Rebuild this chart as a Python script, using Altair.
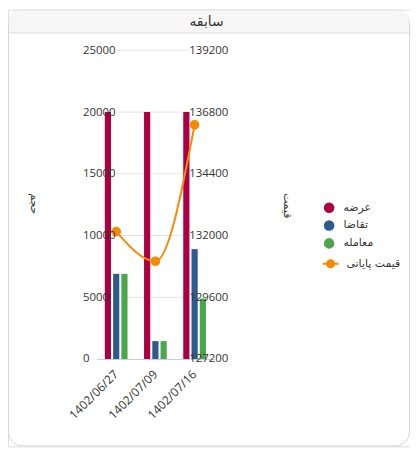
import altair as alt
import pandas as pd

# ---- data ----
dates = ["1402/06/27", "1402/07/09", "1402/07/16"]
series_names = ["عرضه", "تقاضا", "معامله"]
supply = [20000, 20000, 20000]
demand = [6900, 1450, 8900]
trade = [6900, 1450, 4900]
line_name = "قیمت پایانی"
close_price = [132150, 131000, 136300]
vol_ticks = [0, 5000, 10000, 15000, 20000, 25000]
price_ticks = [127200, 129600, 132000, 134400, 136800, 139200]

title_text = "سابقه"
left_title = "حجم"
right_title = "قیمت"

bar_colors = ["#ab0041", "#2f5a8e", "#4ea64b"]
line_color = "#f58a05"

rows = []
for i, d in enumerate(dates):
    for name, vals in zip(series_names, [supply, demand, trade]):
        rows.append({"date": d, "series": name, "value": vals[i]})
bars_df = pd.DataFrame(rows)
line_df = pd.DataFrame({"date": dates, "price": close_price, "s2": [line_name] * len(dates)})
grid_df = pd.DataFrame({"v": vol_ticks[1:]})

W, H = 405, 440
X_RANGE = [89.25, 207.75]
Y_RANGE = [352, 41]
FONT = "Open Sans"
AR_FONT = "DejaVu Sans"

x_scale = alt.Scale(domain=dates, range=X_RANGE, paddingInner=0.4, paddingOuter=0.2)
vol_scale = alt.Scale(domain=[0, 25000], range=Y_RANGE, nice=False, zero=True)
price_scale = alt.Scale(domain=[127200, 139200], range=Y_RANGE, nice=False, zero=False)

blank = alt.Data(values=[{}])

card = alt.Chart(blank).mark_rect(
    fill="white", stroke="#d6d6d6", strokeWidth=1, cornerRadius=14
).encode(x=alt.value(0.5), x2=alt.value(W - 0.5), y=alt.value(0.5), y2=alt.value(H - 0.5))

header = alt.Chart(blank).mark_rect(
    fill="#f6f6f6", cornerRadiusTopLeft=14, cornerRadiusTopRight=14
).encode(x=alt.value(1), x2=alt.value(W - 1), y=alt.value(1), y2=alt.value(23))

header_line = alt.Chart(blank).mark_rule(color="#dcdcdc", strokeWidth=1).encode(
    x=alt.value(1), x2=alt.value(W - 1), y=alt.value(23.5)
)

title = alt.Chart(blank).mark_text(
    text=title_text, font=AR_FONT, fontSize=14, color="#333333", align="center", baseline="middle"
).encode(x=alt.value(200), y=alt.value(12))

grid = alt.Chart(grid_df).mark_rule(color="#e3e3e3", strokeWidth=1).encode(
    y=alt.Y("v:Q", scale=vol_scale, axis=None),
    x=alt.value(109), x2=alt.value(182),
)

bars = alt.Chart(bars_df).mark_bar().encode(
    x=alt.X("date:N", scale=x_scale, sort=dates,
            axis=alt.Axis(title=None, orient="bottom", offset=-(H - 352), ticks=False,
                          domain=True, domainColor="#c3d0e3", domainWidth=1,
                          labelAngle=-45, labelAlign="right", labelBaseline="middle",
                          labelPadding=13, labelFont=FONT, labelFontSize=12, labelColor="#333333",
                          grid=False, zindex=1)),
    xOffset=alt.XOffset("series:N", sort=series_names,
                        scale=alt.Scale(domain=series_names, paddingInner=0.25, paddingOuter=0.05)),
    y=alt.Y("value:Q", scale=vol_scale,
            axis=alt.Axis(orient="left", values=vol_ticks, format="d", grid=False, domain=False,
                          ticks=False, offset=-77, labelPadding=2, labelAlign="left",
                          labelFont=FONT, labelFontSize=11.5, labelColor="#333333",
                          title=left_title, titleAngle=90, titleX=-51, titleY=195,
                          titleAlign="center", titleBaseline="middle", titleFont=AR_FONT,
                          titleFontSize=11, titleFontWeight="normal", titleColor="#333333",
                          zindex=1)),
    color=alt.Color("series:N", scale=alt.Scale(domain=series_names, range=bar_colors),
                    sort=series_names,
                    legend=alt.Legend(title=None, orient="none", legendX=318, legendY=194,
                                      symbolType="circle", symbolSize=113, symbolStrokeWidth=0,
                                      labelFont=AR_FONT, labelFontSize=11, labelColor="#333333",
                                      labelOffset=9, rowPadding=6, padding=0)),
)

line = alt.Chart(line_df).mark_line(
    interpolate="monotone", strokeWidth=2,
    point=alt.OverlayMarkDef(filled=True, size=60, color=line_color, opacity=1),
).encode(
    x=alt.X("date:N", scale=x_scale, sort=dates),
    y=alt.Y("price:Q", scale=price_scale,
            axis=alt.Axis(orient="right", values=price_ticks, format="d", grid=False, domain=False,
                          ticks=False, offset=-(W - 180), labelPadding=2, labelFont=FONT,
                          labelFontSize=11.5, labelColor="#333333",
                          title=right_title, titleAngle=90, titleX=101, titleY=197,
                          titleAlign="center", titleBaseline="middle", titleFont=AR_FONT,
                          titleFontSize=11, titleFontWeight="normal", titleColor="#333333",
                          zindex=1)),
    stroke=alt.Stroke("s2:N", scale=alt.Scale(domain=[line_name], range=[line_color]),
                      legend=alt.Legend(title=None, orient="none", legendX=316, legendY=247,
                                        symbolType="M-1,0H1M-0.45,0A0.45,0.45,0,1,0,0.45,0A0.45,0.45,0,1,0,-0.45,0Z",
                                        symbolSize=256, labelFont=AR_FONT, labelFontSize=11,
                                        labelColor="#333333", labelOffset=7, padding=0,
                                        symbolFillColor=line_color, symbolStrokeColor=line_color,
                                        symbolStrokeWidth=2)),
)

chart = alt.layer(card, header, header_line, title, grid, bars, line).resolve_scale(
    y="independent"
).properties(
    width=W, height=H, padding=0, autosize="none"
).configure_view(stroke=None).configure(background="white")

chart.save("out.html", embed_options={"renderer": "svg", "actions": False})
